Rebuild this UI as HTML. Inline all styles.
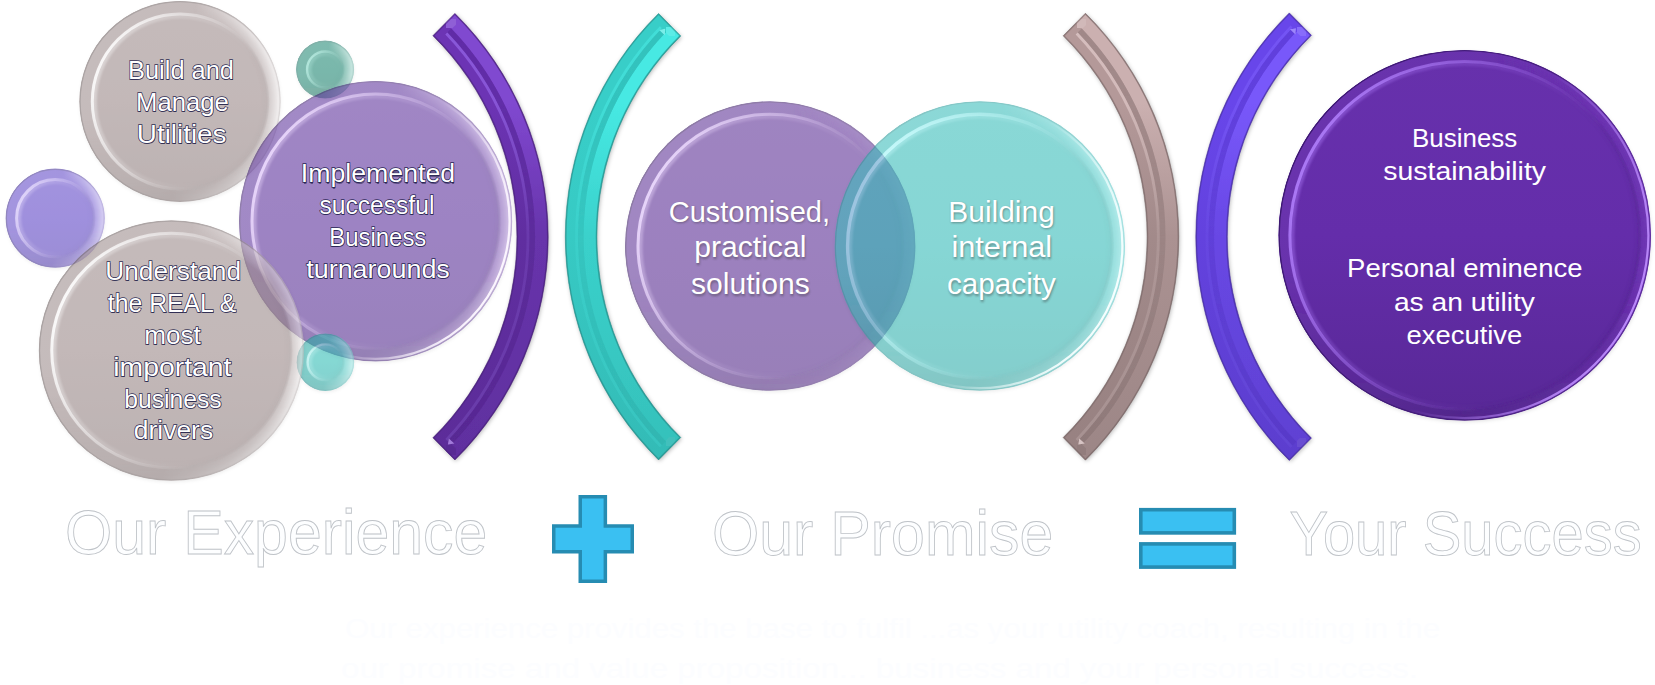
<!DOCTYPE html>
<html lang="en">
<head>
<meta charset="utf-8">
<title>Our Experience + Our Promise = Your Success</title>
<style>
html,body{margin:0;padding:0;background:#ffffff;}
body{width:1655px;height:685px;overflow:hidden;}
svg{display:block;}
text{font-family:"Liberation Sans",sans-serif;}
</style>
</head>
<body>
<svg width="1655" height="685" viewBox="0 0 1655 685">
<defs>
<filter id="sh" x="-20%" y="-20%" width="140%" height="140%"><feGaussianBlur stdDeviation="2.2"/></filter>
<filter id="b1" x="-20%" y="-20%" width="140%" height="140%"><feGaussianBlur stdDeviation="1.1"/></filter>
<filter id="b05" x="-20%" y="-20%" width="140%" height="140%"><feGaussianBlur stdDeviation="0.55"/></filter>
<filter id="b07" x="-20%" y="-20%" width="140%" height="140%"><feGaussianBlur stdDeviation="0.7"/></filter>
<linearGradient id="g1" x1="0" y1="0" x2="0" y2="1"><stop offset="0" stop-color="rgb(96,71,200)"/><stop offset="0.5" stop-color="rgb(91,65,198)"/><stop offset="1" stop-color="rgb(84,60,182)"/></linearGradient>
<clipPath id="g1c"><ellipse cx="55.20" cy="218.20" rx="49.60" ry="49.60" /></clipPath>
<linearGradient id="g1b" gradientUnits="userSpaceOnUse" x1="9.6" y1="198.4" x2="100.8" y2="238.0"><stop offset="0" stop-color="rgb(99,74,201)" stop-opacity="1"/><stop offset="0.45" stop-color="rgb(99,74,201)" stop-opacity="0.6"/><stop offset="0.7" stop-color="rgb(99,74,201)" stop-opacity="0"/></linearGradient>
<linearGradient id="g1q0" gradientUnits="userSpaceOnUse" x1="5.6" y1="212.2" x2="104.8" y2="224.2"><stop offset="0.52" stop-color="rgb(127,105,212)" stop-opacity="0"/><stop offset="0.78" stop-color="rgb(127,105,212)" stop-opacity="0.6"/><stop offset="0.95" stop-color="rgb(127,105,212)" stop-opacity="1"/></linearGradient>
<linearGradient id="g1q1" gradientUnits="userSpaceOnUse" x1="5.6" y1="212.2" x2="104.8" y2="224.2"><stop offset="0.52" stop-color="rgb(139,119,217)" stop-opacity="0"/><stop offset="0.78" stop-color="rgb(139,119,217)" stop-opacity="0.6"/><stop offset="0.95" stop-color="rgb(139,119,217)" stop-opacity="1"/></linearGradient>
<linearGradient id="g1q2" gradientUnits="userSpaceOnUse" x1="5.6" y1="212.2" x2="104.8" y2="224.2"><stop offset="0.52" stop-color="rgb(151,133,222)" stop-opacity="0"/><stop offset="0.78" stop-color="rgb(151,133,222)" stop-opacity="0.6"/><stop offset="0.95" stop-color="rgb(151,133,222)" stop-opacity="1"/></linearGradient>
<linearGradient id="g1q3" gradientUnits="userSpaceOnUse" x1="5.6" y1="212.2" x2="104.8" y2="224.2"><stop offset="0.52" stop-color="rgb(165,148,227)" stop-opacity="0"/><stop offset="0.78" stop-color="rgb(165,148,227)" stop-opacity="0.6"/><stop offset="0.95" stop-color="rgb(165,148,227)" stop-opacity="1"/></linearGradient>
<linearGradient id="g1q4" gradientUnits="userSpaceOnUse" x1="5.6" y1="212.2" x2="104.8" y2="224.2"><stop offset="0.52" stop-color="rgb(178,164,232)" stop-opacity="0"/><stop offset="0.78" stop-color="rgb(178,164,232)" stop-opacity="0.6"/><stop offset="0.95" stop-color="rgb(178,164,232)" stop-opacity="1"/></linearGradient>
<linearGradient id="g1q5" gradientUnits="userSpaceOnUse" x1="5.6" y1="212.2" x2="104.8" y2="224.2"><stop offset="0.52" stop-color="rgb(192,179,238)" stop-opacity="0"/><stop offset="0.78" stop-color="rgb(192,179,238)" stop-opacity="0.6"/><stop offset="0.95" stop-color="rgb(192,179,238)" stop-opacity="1"/></linearGradient>
<linearGradient id="g1v" gradientUnits="userSpaceOnUse" x1="0" y1="168.6" x2="0" y2="267.8"><stop offset="0.6" stop-color="rgb(68,49,148)" stop-opacity="0"/><stop offset="1" stop-color="rgb(68,49,148)" stop-opacity="0.5"/></linearGradient>
<linearGradient id="g1r" gradientUnits="userSpaceOnUse" x1="9.6" y1="198.4" x2="100.8" y2="238.0"><stop offset="0" stop-color="rgb(53,38,115)" stop-opacity="0.70"/><stop offset="0.5" stop-color="rgb(53,38,115)" stop-opacity="0.52"/><stop offset="0.85" stop-color="rgb(53,38,115)" stop-opacity="0.21"/></linearGradient>
<linearGradient id="g1h" gradientUnits="userSpaceOnUse" x1="9.6" y1="198.4" x2="100.8" y2="238.0"><stop offset="0" stop-color="rgb(221,203,255)" stop-opacity="0.95"/><stop offset="0.22" stop-color="rgb(221,203,255)" stop-opacity="0.59"/><stop offset="0.50" stop-color="rgb(221,203,255)" stop-opacity="0.21"/><stop offset="0.75" stop-color="rgb(71,51,154)" stop-opacity="0.16"/><stop offset="1" stop-color="rgb(71,51,154)" stop-opacity="0.25"/></linearGradient>
<linearGradient id="g2" x1="0" y1="0" x2="0" y2="1"><stop offset="0" stop-color="rgb(155,138,138)"/><stop offset="0.5" stop-color="rgb(152,134,134)"/><stop offset="1" stop-color="rgb(140,123,123)"/></linearGradient>
<clipPath id="g2c"><ellipse cx="180.00" cy="101.40" rx="100.70" ry="100.50" /></clipPath>
<linearGradient id="g2b" gradientUnits="userSpaceOnUse" x1="87.4" y1="61.2" x2="272.6" y2="141.6"><stop offset="0" stop-color="rgb(157,140,140)" stop-opacity="1"/><stop offset="0.45" stop-color="rgb(157,140,140)" stop-opacity="0.6"/><stop offset="0.7" stop-color="rgb(157,140,140)" stop-opacity="0"/></linearGradient>
<linearGradient id="g2q0" gradientUnits="userSpaceOnUse" x1="79.3" y1="89.3" x2="280.7" y2="113.5"><stop offset="0.52" stop-color="rgb(183,170,170)" stop-opacity="0"/><stop offset="0.78" stop-color="rgb(183,170,170)" stop-opacity="0.6"/><stop offset="0.95" stop-color="rgb(183,170,170)" stop-opacity="1"/></linearGradient>
<linearGradient id="g2q1" gradientUnits="userSpaceOnUse" x1="79.3" y1="89.3" x2="280.7" y2="113.5"><stop offset="0.52" stop-color="rgb(193,183,183)" stop-opacity="0"/><stop offset="0.78" stop-color="rgb(193,183,183)" stop-opacity="0.6"/><stop offset="0.95" stop-color="rgb(193,183,183)" stop-opacity="1"/></linearGradient>
<linearGradient id="g2q2" gradientUnits="userSpaceOnUse" x1="79.3" y1="89.3" x2="280.7" y2="113.5"><stop offset="0.52" stop-color="rgb(205,196,196)" stop-opacity="0"/><stop offset="0.78" stop-color="rgb(205,196,196)" stop-opacity="0.6"/><stop offset="0.95" stop-color="rgb(205,196,196)" stop-opacity="1"/></linearGradient>
<linearGradient id="g2q3" gradientUnits="userSpaceOnUse" x1="79.3" y1="89.3" x2="280.7" y2="113.5"><stop offset="0.52" stop-color="rgb(216,209,209)" stop-opacity="0"/><stop offset="0.78" stop-color="rgb(216,209,209)" stop-opacity="0.6"/><stop offset="0.95" stop-color="rgb(216,209,209)" stop-opacity="1"/></linearGradient>
<linearGradient id="g2q4" gradientUnits="userSpaceOnUse" x1="79.3" y1="89.3" x2="280.7" y2="113.5"><stop offset="0.52" stop-color="rgb(228,223,223)" stop-opacity="0"/><stop offset="0.78" stop-color="rgb(228,223,223)" stop-opacity="0.6"/><stop offset="0.95" stop-color="rgb(228,223,223)" stop-opacity="1"/></linearGradient>
<linearGradient id="g2q5" gradientUnits="userSpaceOnUse" x1="79.3" y1="89.3" x2="280.7" y2="113.5"><stop offset="0.52" stop-color="rgb(240,237,237)" stop-opacity="0"/><stop offset="0.78" stop-color="rgb(240,237,237)" stop-opacity="0.6"/><stop offset="0.95" stop-color="rgb(240,237,237)" stop-opacity="1"/></linearGradient>
<linearGradient id="g2v" gradientUnits="userSpaceOnUse" x1="0" y1="0.9" x2="0" y2="201.9"><stop offset="0.6" stop-color="rgb(114,100,100)" stop-opacity="0"/><stop offset="1" stop-color="rgb(114,100,100)" stop-opacity="0.5"/></linearGradient>
<linearGradient id="g2r" gradientUnits="userSpaceOnUse" x1="87.4" y1="61.2" x2="272.6" y2="141.6"><stop offset="0" stop-color="rgb(88,78,78)" stop-opacity="0.70"/><stop offset="0.5" stop-color="rgb(88,78,78)" stop-opacity="0.52"/><stop offset="0.85" stop-color="rgb(88,78,78)" stop-opacity="0.21"/></linearGradient>
<linearGradient id="g2h" gradientUnits="userSpaceOnUse" x1="87.4" y1="61.2" x2="272.6" y2="141.6"><stop offset="0" stop-color="rgb(255,255,255)" stop-opacity="0.95"/><stop offset="0.22" stop-color="rgb(255,255,255)" stop-opacity="0.59"/><stop offset="0.50" stop-color="rgb(255,255,255)" stop-opacity="0.21"/><stop offset="0.75" stop-color="rgb(119,105,105)" stop-opacity="0.16"/><stop offset="1" stop-color="rgb(119,105,105)" stop-opacity="0.25"/></linearGradient>
<linearGradient id="g3" x1="0" y1="0" x2="0" y2="1"><stop offset="0" stop-color="rgb(33,137,116)"/><stop offset="0.5" stop-color="rgb(26,133,112)"/><stop offset="1" stop-color="rgb(24,122,103)"/></linearGradient>
<clipPath id="g3c"><ellipse cx="325.10" cy="69.50" rx="29.00" ry="29.00" /></clipPath>
<linearGradient id="g3b" gradientUnits="userSpaceOnUse" x1="298.4" y1="57.9" x2="351.8" y2="81.1"><stop offset="0" stop-color="rgb(37,139,119)" stop-opacity="1"/><stop offset="0.45" stop-color="rgb(37,139,119)" stop-opacity="0.6"/><stop offset="0.7" stop-color="rgb(37,139,119)" stop-opacity="0"/></linearGradient>
<linearGradient id="g3q0" gradientUnits="userSpaceOnUse" x1="296.1" y1="66.0" x2="354.1" y2="73.0"><stop offset="0.52" stop-color="rgb(79,164,147)" stop-opacity="0"/><stop offset="0.78" stop-color="rgb(79,164,147)" stop-opacity="0.6"/><stop offset="0.95" stop-color="rgb(79,164,147)" stop-opacity="1"/></linearGradient>
<linearGradient id="g3q1" gradientUnits="userSpaceOnUse" x1="296.1" y1="66.0" x2="354.1" y2="73.0"><stop offset="0.52" stop-color="rgb(97,175,159)" stop-opacity="0"/><stop offset="0.78" stop-color="rgb(97,175,159)" stop-opacity="0.6"/><stop offset="0.95" stop-color="rgb(97,175,159)" stop-opacity="1"/></linearGradient>
<linearGradient id="g3q2" gradientUnits="userSpaceOnUse" x1="296.1" y1="66.0" x2="354.1" y2="73.0"><stop offset="0.52" stop-color="rgb(116,186,172)" stop-opacity="0"/><stop offset="0.78" stop-color="rgb(116,186,172)" stop-opacity="0.6"/><stop offset="0.95" stop-color="rgb(116,186,172)" stop-opacity="1"/></linearGradient>
<linearGradient id="g3q3" gradientUnits="userSpaceOnUse" x1="296.1" y1="66.0" x2="354.1" y2="73.0"><stop offset="0.52" stop-color="rgb(135,197,185)" stop-opacity="0"/><stop offset="0.78" stop-color="rgb(135,197,185)" stop-opacity="0.6"/><stop offset="0.95" stop-color="rgb(135,197,185)" stop-opacity="1"/></linearGradient>
<linearGradient id="g3q4" gradientUnits="userSpaceOnUse" x1="296.1" y1="66.0" x2="354.1" y2="73.0"><stop offset="0.52" stop-color="rgb(155,209,198)" stop-opacity="0"/><stop offset="0.78" stop-color="rgb(155,209,198)" stop-opacity="0.6"/><stop offset="0.95" stop-color="rgb(155,209,198)" stop-opacity="1"/></linearGradient>
<linearGradient id="g3q5" gradientUnits="userSpaceOnUse" x1="296.1" y1="66.0" x2="354.1" y2="73.0"><stop offset="0.52" stop-color="rgb(175,221,212)" stop-opacity="0"/><stop offset="0.78" stop-color="rgb(175,221,212)" stop-opacity="0.6"/><stop offset="0.95" stop-color="rgb(175,221,212)" stop-opacity="1"/></linearGradient>
<linearGradient id="g3v" gradientUnits="userSpaceOnUse" x1="0" y1="40.5" x2="0" y2="98.5"><stop offset="0.6" stop-color="rgb(20,100,84)" stop-opacity="0"/><stop offset="1" stop-color="rgb(20,100,84)" stop-opacity="0.5"/></linearGradient>
<linearGradient id="g3r" gradientUnits="userSpaceOnUse" x1="298.4" y1="57.9" x2="351.8" y2="81.1"><stop offset="0" stop-color="rgb(40,110,100)" stop-opacity="0.70"/><stop offset="0.5" stop-color="rgb(40,110,100)" stop-opacity="0.52"/><stop offset="0.85" stop-color="rgb(40,110,100)" stop-opacity="0.21"/></linearGradient>
<linearGradient id="g3h" gradientUnits="userSpaceOnUse" x1="298.4" y1="57.9" x2="351.8" y2="81.1"><stop offset="0" stop-color="rgb(160,243,226)" stop-opacity="0.95"/><stop offset="0.22" stop-color="rgb(160,243,226)" stop-opacity="0.59"/><stop offset="0.50" stop-color="rgb(160,243,226)" stop-opacity="0.21"/><stop offset="0.75" stop-color="rgb(20,104,87)" stop-opacity="0.16"/><stop offset="1" stop-color="rgb(20,104,87)" stop-opacity="0.25"/></linearGradient>
<linearGradient id="g4" x1="0" y1="0" x2="0" y2="1"><stop offset="0" stop-color="rgb(93,49,156)"/><stop offset="0.5" stop-color="rgb(88,43,153)"/><stop offset="1" stop-color="rgb(81,40,141)"/></linearGradient>
<clipPath id="g4c"><ellipse cx="375.60" cy="221.20" rx="136.60" ry="140.30" /></clipPath>
<linearGradient id="g4b" gradientUnits="userSpaceOnUse" x1="249.9" y1="165.1" x2="501.3" y2="277.3"><stop offset="0" stop-color="rgb(96,54,158)" stop-opacity="1"/><stop offset="0.45" stop-color="rgb(96,54,158)" stop-opacity="0.6"/><stop offset="0.7" stop-color="rgb(96,54,158)" stop-opacity="0"/></linearGradient>
<linearGradient id="g4q0" gradientUnits="userSpaceOnUse" x1="239.0" y1="204.4" x2="512.2" y2="238.0"><stop offset="0.52" stop-color="rgb(125,87,179)" stop-opacity="0"/><stop offset="0.78" stop-color="rgb(125,87,179)" stop-opacity="0.6"/><stop offset="0.95" stop-color="rgb(125,87,179)" stop-opacity="1"/></linearGradient>
<linearGradient id="g4q1" gradientUnits="userSpaceOnUse" x1="239.0" y1="204.4" x2="512.2" y2="238.0"><stop offset="0.52" stop-color="rgb(138,102,187)" stop-opacity="0"/><stop offset="0.78" stop-color="rgb(138,102,187)" stop-opacity="0.6"/><stop offset="0.95" stop-color="rgb(138,102,187)" stop-opacity="1"/></linearGradient>
<linearGradient id="g4q2" gradientUnits="userSpaceOnUse" x1="239.0" y1="204.4" x2="512.2" y2="238.0"><stop offset="0.52" stop-color="rgb(151,117,197)" stop-opacity="0"/><stop offset="0.78" stop-color="rgb(151,117,197)" stop-opacity="0.6"/><stop offset="0.95" stop-color="rgb(151,117,197)" stop-opacity="1"/></linearGradient>
<linearGradient id="g4q3" gradientUnits="userSpaceOnUse" x1="239.0" y1="204.4" x2="512.2" y2="238.0"><stop offset="0.52" stop-color="rgb(165,133,206)" stop-opacity="0"/><stop offset="0.78" stop-color="rgb(165,133,206)" stop-opacity="0.6"/><stop offset="0.95" stop-color="rgb(165,133,206)" stop-opacity="1"/></linearGradient>
<linearGradient id="g4q4" gradientUnits="userSpaceOnUse" x1="239.0" y1="204.4" x2="512.2" y2="238.0"><stop offset="0.52" stop-color="rgb(179,150,216)" stop-opacity="0"/><stop offset="0.78" stop-color="rgb(179,150,216)" stop-opacity="0.6"/><stop offset="0.95" stop-color="rgb(179,150,216)" stop-opacity="1"/></linearGradient>
<linearGradient id="g4q5" gradientUnits="userSpaceOnUse" x1="239.0" y1="204.4" x2="512.2" y2="238.0"><stop offset="0.52" stop-color="rgb(193,167,226)" stop-opacity="0"/><stop offset="0.78" stop-color="rgb(193,167,226)" stop-opacity="0.6"/><stop offset="0.95" stop-color="rgb(193,167,226)" stop-opacity="1"/></linearGradient>
<linearGradient id="g4v" gradientUnits="userSpaceOnUse" x1="0" y1="80.9" x2="0" y2="361.5"><stop offset="0.6" stop-color="rgb(66,32,115)" stop-opacity="0"/><stop offset="1" stop-color="rgb(66,32,115)" stop-opacity="0.5"/></linearGradient>
<linearGradient id="g4r" gradientUnits="userSpaceOnUse" x1="249.9" y1="165.1" x2="501.3" y2="277.3"><stop offset="0" stop-color="rgb(51,25,89)" stop-opacity="0.70"/><stop offset="0.5" stop-color="rgb(51,25,89)" stop-opacity="0.52"/><stop offset="0.85" stop-color="rgb(51,25,89)" stop-opacity="0.21"/></linearGradient>
<linearGradient id="g4h" gradientUnits="userSpaceOnUse" x1="249.9" y1="165.1" x2="501.3" y2="277.3"><stop offset="0" stop-color="rgb(226,195,255)" stop-opacity="0.95"/><stop offset="0.22" stop-color="rgb(226,195,255)" stop-opacity="0.59"/><stop offset="0.50" stop-color="rgb(226,195,255)" stop-opacity="0.21"/><stop offset="0.75" stop-color="rgb(69,34,119)" stop-opacity="0.16"/><stop offset="1" stop-color="rgb(69,34,119)" stop-opacity="0.25"/></linearGradient>
<linearGradient id="g4e" gradientUnits="userSpaceOnUse" x1="249.9" y1="165.1" x2="501.3" y2="277.3"><stop offset="0" stop-color="rgb(250,240,255)" stop-opacity="0"/><stop offset="0.55" stop-color="rgb(250,240,255)" stop-opacity="0"/><stop offset="0.9" stop-color="rgb(250,240,255)" stop-opacity="0.9"/><stop offset="1" stop-color="rgb(250,240,255)" stop-opacity="1"/></linearGradient>
<linearGradient id="g5" x1="0" y1="0" x2="0" y2="1"><stop offset="0" stop-color="rgb(52,190,183)"/><stop offset="0.5" stop-color="rgb(46,188,181)"/><stop offset="1" stop-color="rgb(42,173,167)"/></linearGradient>
<clipPath id="g5c"><ellipse cx="325.40" cy="362.20" rx="28.80" ry="28.80" /></clipPath>
<linearGradient id="g5b" gradientUnits="userSpaceOnUse" x1="298.9" y1="350.7" x2="351.9" y2="373.7"><stop offset="0" stop-color="rgb(41,169,163)" stop-opacity="1"/><stop offset="0.45" stop-color="rgb(41,169,163)" stop-opacity="0.6"/><stop offset="0.7" stop-color="rgb(41,169,163)" stop-opacity="0"/></linearGradient>
<linearGradient id="g5q0" gradientUnits="userSpaceOnUse" x1="296.6" y1="358.7" x2="354.2" y2="365.7"><stop offset="0.52" stop-color="rgb(90,204,199)" stop-opacity="0"/><stop offset="0.78" stop-color="rgb(90,204,199)" stop-opacity="0.6"/><stop offset="0.95" stop-color="rgb(90,204,199)" stop-opacity="1"/></linearGradient>
<linearGradient id="g5q1" gradientUnits="userSpaceOnUse" x1="296.6" y1="358.7" x2="354.2" y2="365.7"><stop offset="0.52" stop-color="rgb(105,209,205)" stop-opacity="0"/><stop offset="0.78" stop-color="rgb(105,209,205)" stop-opacity="0.6"/><stop offset="0.95" stop-color="rgb(105,209,205)" stop-opacity="1"/></linearGradient>
<linearGradient id="g5q2" gradientUnits="userSpaceOnUse" x1="296.6" y1="358.7" x2="354.2" y2="365.7"><stop offset="0.52" stop-color="rgb(121,215,211)" stop-opacity="0"/><stop offset="0.78" stop-color="rgb(121,215,211)" stop-opacity="0.6"/><stop offset="0.95" stop-color="rgb(121,215,211)" stop-opacity="1"/></linearGradient>
<linearGradient id="g5q3" gradientUnits="userSpaceOnUse" x1="296.6" y1="358.7" x2="354.2" y2="365.7"><stop offset="0.52" stop-color="rgb(137,221,217)" stop-opacity="0"/><stop offset="0.78" stop-color="rgb(137,221,217)" stop-opacity="0.6"/><stop offset="0.95" stop-color="rgb(137,221,217)" stop-opacity="1"/></linearGradient>
<linearGradient id="g5q4" gradientUnits="userSpaceOnUse" x1="296.6" y1="358.7" x2="354.2" y2="365.7"><stop offset="0.52" stop-color="rgb(154,227,224)" stop-opacity="0"/><stop offset="0.78" stop-color="rgb(154,227,224)" stop-opacity="0.6"/><stop offset="0.95" stop-color="rgb(154,227,224)" stop-opacity="1"/></linearGradient>
<linearGradient id="g5q5" gradientUnits="userSpaceOnUse" x1="296.6" y1="358.7" x2="354.2" y2="365.7"><stop offset="0.52" stop-color="rgb(171,233,231)" stop-opacity="0"/><stop offset="0.78" stop-color="rgb(171,233,231)" stop-opacity="0.6"/><stop offset="0.95" stop-color="rgb(171,233,231)" stop-opacity="1"/></linearGradient>
<linearGradient id="g5v" gradientUnits="userSpaceOnUse" x1="0" y1="333.4" x2="0" y2="391.0"><stop offset="0.6" stop-color="rgb(34,141,136)" stop-opacity="0"/><stop offset="1" stop-color="rgb(34,141,136)" stop-opacity="0.5"/></linearGradient>
<linearGradient id="g5r" gradientUnits="userSpaceOnUse" x1="298.9" y1="350.7" x2="351.9" y2="373.7"><stop offset="0" stop-color="rgb(40,130,135)" stop-opacity="0.70"/><stop offset="0.5" stop-color="rgb(40,130,135)" stop-opacity="0.52"/><stop offset="0.85" stop-color="rgb(40,130,135)" stop-opacity="0.21"/></linearGradient>
<linearGradient id="g5h" gradientUnits="userSpaceOnUse" x1="298.9" y1="350.7" x2="351.9" y2="373.7"><stop offset="0" stop-color="rgb(203,253,252)" stop-opacity="0.95"/><stop offset="0.22" stop-color="rgb(203,253,252)" stop-opacity="0.59"/><stop offset="0.50" stop-color="rgb(203,253,252)" stop-opacity="0.21"/><stop offset="0.75" stop-color="rgb(36,147,141)" stop-opacity="0.16"/><stop offset="1" stop-color="rgb(36,147,141)" stop-opacity="0.25"/></linearGradient>
<linearGradient id="g6" x1="0" y1="0" x2="0" y2="1"><stop offset="0" stop-color="rgb(155,138,138)"/><stop offset="0.5" stop-color="rgb(152,134,134)"/><stop offset="1" stop-color="rgb(140,123,123)"/></linearGradient>
<clipPath id="g6c"><ellipse cx="171.35" cy="350.55" rx="132.60" ry="130.25" /></clipPath>
<linearGradient id="g6b" gradientUnits="userSpaceOnUse" x1="49.4" y1="298.4" x2="293.3" y2="402.7"><stop offset="0" stop-color="rgb(157,140,140)" stop-opacity="1"/><stop offset="0.45" stop-color="rgb(157,140,140)" stop-opacity="0.6"/><stop offset="0.7" stop-color="rgb(157,140,140)" stop-opacity="0"/></linearGradient>
<linearGradient id="g6q0" gradientUnits="userSpaceOnUse" x1="38.8" y1="334.9" x2="303.9" y2="366.2"><stop offset="0.52" stop-color="rgb(183,170,170)" stop-opacity="0"/><stop offset="0.78" stop-color="rgb(183,170,170)" stop-opacity="0.6"/><stop offset="0.95" stop-color="rgb(183,170,170)" stop-opacity="1"/></linearGradient>
<linearGradient id="g6q1" gradientUnits="userSpaceOnUse" x1="38.8" y1="334.9" x2="303.9" y2="366.2"><stop offset="0.52" stop-color="rgb(193,183,183)" stop-opacity="0"/><stop offset="0.78" stop-color="rgb(193,183,183)" stop-opacity="0.6"/><stop offset="0.95" stop-color="rgb(193,183,183)" stop-opacity="1"/></linearGradient>
<linearGradient id="g6q2" gradientUnits="userSpaceOnUse" x1="38.8" y1="334.9" x2="303.9" y2="366.2"><stop offset="0.52" stop-color="rgb(205,196,196)" stop-opacity="0"/><stop offset="0.78" stop-color="rgb(205,196,196)" stop-opacity="0.6"/><stop offset="0.95" stop-color="rgb(205,196,196)" stop-opacity="1"/></linearGradient>
<linearGradient id="g6q3" gradientUnits="userSpaceOnUse" x1="38.8" y1="334.9" x2="303.9" y2="366.2"><stop offset="0.52" stop-color="rgb(216,209,209)" stop-opacity="0"/><stop offset="0.78" stop-color="rgb(216,209,209)" stop-opacity="0.6"/><stop offset="0.95" stop-color="rgb(216,209,209)" stop-opacity="1"/></linearGradient>
<linearGradient id="g6q4" gradientUnits="userSpaceOnUse" x1="38.8" y1="334.9" x2="303.9" y2="366.2"><stop offset="0.52" stop-color="rgb(228,223,223)" stop-opacity="0"/><stop offset="0.78" stop-color="rgb(228,223,223)" stop-opacity="0.6"/><stop offset="0.95" stop-color="rgb(228,223,223)" stop-opacity="1"/></linearGradient>
<linearGradient id="g6q5" gradientUnits="userSpaceOnUse" x1="38.8" y1="334.9" x2="303.9" y2="366.2"><stop offset="0.52" stop-color="rgb(240,237,237)" stop-opacity="0"/><stop offset="0.78" stop-color="rgb(240,237,237)" stop-opacity="0.6"/><stop offset="0.95" stop-color="rgb(240,237,237)" stop-opacity="1"/></linearGradient>
<linearGradient id="g6v" gradientUnits="userSpaceOnUse" x1="0" y1="220.3" x2="0" y2="480.8"><stop offset="0.6" stop-color="rgb(114,100,100)" stop-opacity="0"/><stop offset="1" stop-color="rgb(114,100,100)" stop-opacity="0.5"/></linearGradient>
<linearGradient id="g6r" gradientUnits="userSpaceOnUse" x1="49.4" y1="298.4" x2="293.3" y2="402.7"><stop offset="0" stop-color="rgb(88,78,78)" stop-opacity="0.70"/><stop offset="0.5" stop-color="rgb(88,78,78)" stop-opacity="0.52"/><stop offset="0.85" stop-color="rgb(88,78,78)" stop-opacity="0.21"/></linearGradient>
<linearGradient id="g6h" gradientUnits="userSpaceOnUse" x1="49.4" y1="298.4" x2="293.3" y2="402.7"><stop offset="0" stop-color="rgb(255,255,255)" stop-opacity="0.95"/><stop offset="0.22" stop-color="rgb(255,255,255)" stop-opacity="0.59"/><stop offset="0.50" stop-color="rgb(255,255,255)" stop-opacity="0.21"/><stop offset="0.75" stop-color="rgb(119,105,105)" stop-opacity="0.16"/><stop offset="1" stop-color="rgb(119,105,105)" stop-opacity="0.25"/></linearGradient>
<clipPath id="c7"><path d="M454.90 460.01 A313.90 313.90 0 0 0 454.90 13.39 L432.90 35.65 A282.60 282.60 0 0 1 432.90 437.75 Z"/></clipPath>
<linearGradient id="c7f" gradientUnits="userSpaceOnUse" x1="0" y1="13.4" x2="0" y2="460.0"><stop offset="0" stop-color="rgb(108,52,180)"/><stop offset="0.2" stop-color="rgb(108,52,180)"/><stop offset="0.5" stop-color="rgb(96,46,160)"/><stop offset="1" stop-color="rgb(92,44,153)"/></linearGradient>
<linearGradient id="c7l" gradientUnits="userSpaceOnUse" x1="0" y1="13.4" x2="0" y2="460.0"><stop offset="0" stop-color="rgb(128,72,208)"/><stop offset="0.2" stop-color="rgb(128,72,208)"/><stop offset="0.5" stop-color="rgb(103,52,171)"/><stop offset="1" stop-color="rgb(96,47,159)"/></linearGradient>
<linearGradient id="c7g" gradientUnits="userSpaceOnUse" x1="0" y1="13.4" x2="0" y2="460.0"><stop offset="0" stop-color="rgb(96,44,166)" stop-opacity="1"/><stop offset="0.2" stop-color="rgb(96,44,166)" stop-opacity="0.9"/><stop offset="0.5" stop-color="rgb(85,39,148)" stop-opacity="0.35"/><stop offset="1" stop-color="rgb(82,37,141)" stop-opacity="0.55"/></linearGradient>
<linearGradient id="c7s" gradientUnits="userSpaceOnUse" x1="0" y1="13.4" x2="0" y2="460.0"><stop offset="0" stop-color="rgb(138,88,218)" stop-opacity="1"/><stop offset="0.2" stop-color="rgb(138,88,218)" stop-opacity="0.9"/><stop offset="0.5" stop-color="rgb(123,78,194)" stop-opacity="0.35"/><stop offset="1" stop-color="rgb(117,75,185)" stop-opacity="0.55"/></linearGradient>
<clipPath id="c8"><path d="M658.57 13.46 A313.80 313.80 0 0 0 658.57 459.94 L680.78 437.46 A282.20 282.20 0 0 1 680.78 35.94 Z"/></clipPath>
<linearGradient id="c8f" gradientUnits="userSpaceOnUse" x1="0" y1="13.5" x2="0" y2="459.9"><stop offset="0" stop-color="rgb(56,206,200)"/><stop offset="0.2" stop-color="rgb(56,206,200)"/><stop offset="0.5" stop-color="rgb(55,202,196)"/><stop offset="1" stop-color="rgb(51,187,182)"/></linearGradient>
<linearGradient id="c8l" gradientUnits="userSpaceOnUse" x1="0" y1="13.5" x2="0" y2="459.9"><stop offset="0" stop-color="rgb(70,233,227)"/><stop offset="0.2" stop-color="rgb(70,233,227)"/><stop offset="0.5" stop-color="rgb(58,209,203)"/><stop offset="1" stop-color="rgb(53,192,186)"/></linearGradient>
<linearGradient id="c8g" gradientUnits="userSpaceOnUse" x1="0" y1="13.5" x2="0" y2="459.9"><stop offset="0" stop-color="rgb(50,194,189)" stop-opacity="1"/><stop offset="0.2" stop-color="rgb(50,194,189)" stop-opacity="0.9"/><stop offset="0.5" stop-color="rgb(49,190,185)" stop-opacity="0.35"/><stop offset="1" stop-color="rgb(46,177,172)" stop-opacity="0.55"/></linearGradient>
<linearGradient id="c8s" gradientUnits="userSpaceOnUse" x1="0" y1="13.5" x2="0" y2="459.9"><stop offset="0" stop-color="rgb(66,222,216)" stop-opacity="1"/><stop offset="0.2" stop-color="rgb(66,222,216)" stop-opacity="0.9"/><stop offset="0.5" stop-color="rgb(65,218,212)" stop-opacity="0.35"/><stop offset="1" stop-color="rgb(60,202,197)" stop-opacity="0.55"/></linearGradient>
<clipPath id="c9"><path d="M1085.44 460.15 A314.10 314.10 0 0 0 1085.44 13.25 L1063.16 35.80 A282.40 282.40 0 0 1 1063.16 437.60 Z"/></clipPath>
<linearGradient id="c9f" gradientUnits="userSpaceOnUse" x1="0" y1="13.2" x2="0" y2="460.2"><stop offset="0" stop-color="rgb(180,153,153)"/><stop offset="0.2" stop-color="rgb(180,153,153)"/><stop offset="0.5" stop-color="rgb(162,138,138)"/><stop offset="1" stop-color="rgb(151,129,129)"/></linearGradient>
<linearGradient id="c9l" gradientUnits="userSpaceOnUse" x1="0" y1="13.2" x2="0" y2="460.2"><stop offset="0" stop-color="rgb(203,176,176)"/><stop offset="0.2" stop-color="rgb(203,176,176)"/><stop offset="0.5" stop-color="rgb(171,146,146)"/><stop offset="1" stop-color="rgb(156,134,134)"/></linearGradient>
<linearGradient id="c9g" gradientUnits="userSpaceOnUse" x1="0" y1="13.2" x2="0" y2="460.2"><stop offset="0" stop-color="rgb(160,136,136)" stop-opacity="1"/><stop offset="0.2" stop-color="rgb(160,136,136)" stop-opacity="0.9"/><stop offset="0.5" stop-color="rgb(144,122,122)" stop-opacity="0.35"/><stop offset="1" stop-color="rgb(134,114,114)" stop-opacity="0.55"/></linearGradient>
<linearGradient id="c9s" gradientUnits="userSpaceOnUse" x1="0" y1="13.2" x2="0" y2="460.2"><stop offset="0" stop-color="rgb(214,190,190)" stop-opacity="1"/><stop offset="0.2" stop-color="rgb(214,190,190)" stop-opacity="0.9"/><stop offset="0.5" stop-color="rgb(193,171,171)" stop-opacity="0.35"/><stop offset="1" stop-color="rgb(180,160,160)" stop-opacity="0.55"/></linearGradient>
<clipPath id="c10"><path d="M1289.31 12.89 A314.60 314.60 0 0 0 1289.31 460.51 L1311.44 438.10 A283.10 283.10 0 0 1 1311.44 35.30 Z"/></clipPath>
<linearGradient id="c10f" gradientUnits="userSpaceOnUse" x1="0" y1="12.9" x2="0" y2="460.5"><stop offset="0" stop-color="rgb(104,70,234)"/><stop offset="0.2" stop-color="rgb(104,70,234)"/><stop offset="0.5" stop-color="rgb(99,66,222)"/><stop offset="1" stop-color="rgb(92,62,206)"/></linearGradient>
<linearGradient id="c10l" gradientUnits="userSpaceOnUse" x1="0" y1="12.9" x2="0" y2="460.5"><stop offset="0" stop-color="rgb(120,88,250)"/><stop offset="0.2" stop-color="rgb(120,88,250)"/><stop offset="0.5" stop-color="rgb(104,71,228)"/><stop offset="1" stop-color="rgb(95,65,210)"/></linearGradient>
<linearGradient id="c10g" gradientUnits="userSpaceOnUse" x1="0" y1="12.9" x2="0" y2="460.5"><stop offset="0" stop-color="rgb(96,63,220)" stop-opacity="1"/><stop offset="0.2" stop-color="rgb(96,63,220)" stop-opacity="0.9"/><stop offset="0.5" stop-color="rgb(91,60,209)" stop-opacity="0.35"/><stop offset="1" stop-color="rgb(84,55,194)" stop-opacity="0.55"/></linearGradient>
<linearGradient id="c10s" gradientUnits="userSpaceOnUse" x1="0" y1="12.9" x2="0" y2="460.5"><stop offset="0" stop-color="rgb(116,84,244)" stop-opacity="1"/><stop offset="0.2" stop-color="rgb(116,84,244)" stop-opacity="0.9"/><stop offset="0.5" stop-color="rgb(110,80,232)" stop-opacity="0.35"/><stop offset="1" stop-color="rgb(102,74,215)" stop-opacity="0.55"/></linearGradient>
<linearGradient id="g11" x1="0" y1="0" x2="0" y2="1"><stop offset="0" stop-color="rgb(91,45,149)"/><stop offset="0.5" stop-color="rgb(86,39,146)"/><stop offset="1" stop-color="rgb(79,36,134)"/></linearGradient>
<clipPath id="g11c"><ellipse cx="770.20" cy="246.00" rx="145.20" ry="144.80" /></clipPath>
<linearGradient id="g11b" gradientUnits="userSpaceOnUse" x1="636.6" y1="188.1" x2="903.8" y2="303.9"><stop offset="0" stop-color="rgb(94,50,151)" stop-opacity="1"/><stop offset="0.45" stop-color="rgb(94,50,151)" stop-opacity="0.6"/><stop offset="0.7" stop-color="rgb(94,50,151)" stop-opacity="0"/></linearGradient>
<linearGradient id="g11q0" gradientUnits="userSpaceOnUse" x1="625.0" y1="228.6" x2="915.4" y2="263.4"><stop offset="0.52" stop-color="rgb(94,49,152)" stop-opacity="0"/><stop offset="0.78" stop-color="rgb(94,49,152)" stop-opacity="0.6"/><stop offset="0.95" stop-color="rgb(94,49,152)" stop-opacity="1"/></linearGradient>
<linearGradient id="g11q1" gradientUnits="userSpaceOnUse" x1="625.0" y1="228.6" x2="915.4" y2="263.4"><stop offset="0.52" stop-color="rgb(97,52,154)" stop-opacity="0"/><stop offset="0.78" stop-color="rgb(97,52,154)" stop-opacity="0.6"/><stop offset="0.95" stop-color="rgb(97,52,154)" stop-opacity="1"/></linearGradient>
<linearGradient id="g11q2" gradientUnits="userSpaceOnUse" x1="625.0" y1="228.6" x2="915.4" y2="263.4"><stop offset="0.52" stop-color="rgb(100,56,156)" stop-opacity="0"/><stop offset="0.78" stop-color="rgb(100,56,156)" stop-opacity="0.6"/><stop offset="0.95" stop-color="rgb(100,56,156)" stop-opacity="1"/></linearGradient>
<linearGradient id="g11q3" gradientUnits="userSpaceOnUse" x1="625.0" y1="228.6" x2="915.4" y2="263.4"><stop offset="0.52" stop-color="rgb(103,59,158)" stop-opacity="0"/><stop offset="0.78" stop-color="rgb(103,59,158)" stop-opacity="0.6"/><stop offset="0.95" stop-color="rgb(103,59,158)" stop-opacity="1"/></linearGradient>
<linearGradient id="g11q4" gradientUnits="userSpaceOnUse" x1="625.0" y1="228.6" x2="915.4" y2="263.4"><stop offset="0.52" stop-color="rgb(106,63,160)" stop-opacity="0"/><stop offset="0.78" stop-color="rgb(106,63,160)" stop-opacity="0.6"/><stop offset="0.95" stop-color="rgb(106,63,160)" stop-opacity="1"/></linearGradient>
<linearGradient id="g11q5" gradientUnits="userSpaceOnUse" x1="625.0" y1="228.6" x2="915.4" y2="263.4"><stop offset="0.52" stop-color="rgb(109,67,162)" stop-opacity="0"/><stop offset="0.78" stop-color="rgb(109,67,162)" stop-opacity="0.6"/><stop offset="0.95" stop-color="rgb(109,67,162)" stop-opacity="1"/></linearGradient>
<linearGradient id="g11v" gradientUnits="userSpaceOnUse" x1="0" y1="101.2" x2="0" y2="390.8"><stop offset="0.6" stop-color="rgb(64,29,110)" stop-opacity="0"/><stop offset="1" stop-color="rgb(64,29,110)" stop-opacity="0.5"/></linearGradient>
<linearGradient id="g11r" gradientUnits="userSpaceOnUse" x1="636.6" y1="188.1" x2="903.8" y2="303.9"><stop offset="0" stop-color="rgb(50,23,85)" stop-opacity="0.80"/><stop offset="0.5" stop-color="rgb(50,23,85)" stop-opacity="0.60"/><stop offset="0.85" stop-color="rgb(50,23,85)" stop-opacity="0.24"/></linearGradient>
<linearGradient id="g11h" gradientUnits="userSpaceOnUse" x1="636.6" y1="188.1" x2="903.8" y2="303.9"><stop offset="0" stop-color="rgb(226,195,255)" stop-opacity="0.95"/><stop offset="0.22" stop-color="rgb(226,195,255)" stop-opacity="0.59"/><stop offset="0.50" stop-color="rgb(226,195,255)" stop-opacity="0.21"/><stop offset="0.75" stop-color="rgb(67,30,114)" stop-opacity="0.16"/><stop offset="1" stop-color="rgb(67,30,114)" stop-opacity="0.25"/></linearGradient>
<linearGradient id="g12" x1="0" y1="0" x2="0" y2="1"><stop offset="0" stop-color="rgb(54,188,185)"/><stop offset="0.5" stop-color="rgb(48,186,183)"/><stop offset="1" stop-color="rgb(44,171,168)"/></linearGradient>
<clipPath id="g12c"><ellipse cx="979.80" cy="246.00" rx="145.20" ry="144.80" /></clipPath>
<linearGradient id="g12b" gradientUnits="userSpaceOnUse" x1="846.2" y1="188.1" x2="1113.4" y2="303.9"><stop offset="0" stop-color="rgb(58,189,187)" stop-opacity="1"/><stop offset="0.45" stop-color="rgb(58,189,187)" stop-opacity="0.6"/><stop offset="0.7" stop-color="rgb(58,189,187)" stop-opacity="0"/></linearGradient>
<linearGradient id="g12q0" gradientUnits="userSpaceOnUse" x1="834.6" y1="228.6" x2="1125.0" y2="263.4"><stop offset="0.52" stop-color="rgb(78,200,198)" stop-opacity="0"/><stop offset="0.78" stop-color="rgb(78,200,198)" stop-opacity="0.6"/><stop offset="0.95" stop-color="rgb(78,200,198)" stop-opacity="1"/></linearGradient>
<linearGradient id="g12q1" gradientUnits="userSpaceOnUse" x1="834.6" y1="228.6" x2="1125.0" y2="263.4"><stop offset="0.52" stop-color="rgb(88,205,203)" stop-opacity="0"/><stop offset="0.78" stop-color="rgb(88,205,203)" stop-opacity="0.6"/><stop offset="0.95" stop-color="rgb(88,205,203)" stop-opacity="1"/></linearGradient>
<linearGradient id="g12q2" gradientUnits="userSpaceOnUse" x1="834.6" y1="228.6" x2="1125.0" y2="263.4"><stop offset="0.52" stop-color="rgb(98,210,209)" stop-opacity="0"/><stop offset="0.78" stop-color="rgb(98,210,209)" stop-opacity="0.6"/><stop offset="0.95" stop-color="rgb(98,210,209)" stop-opacity="1"/></linearGradient>
<linearGradient id="g12q3" gradientUnits="userSpaceOnUse" x1="834.6" y1="228.6" x2="1125.0" y2="263.4"><stop offset="0.52" stop-color="rgb(109,216,214)" stop-opacity="0"/><stop offset="0.78" stop-color="rgb(109,216,214)" stop-opacity="0.6"/><stop offset="0.95" stop-color="rgb(109,216,214)" stop-opacity="1"/></linearGradient>
<linearGradient id="g12q4" gradientUnits="userSpaceOnUse" x1="834.6" y1="228.6" x2="1125.0" y2="263.4"><stop offset="0.52" stop-color="rgb(121,221,220)" stop-opacity="0"/><stop offset="0.78" stop-color="rgb(121,221,220)" stop-opacity="0.6"/><stop offset="0.95" stop-color="rgb(121,221,220)" stop-opacity="1"/></linearGradient>
<linearGradient id="g12q5" gradientUnits="userSpaceOnUse" x1="834.6" y1="228.6" x2="1125.0" y2="263.4"><stop offset="0.52" stop-color="rgb(132,226,226)" stop-opacity="0"/><stop offset="0.78" stop-color="rgb(132,226,226)" stop-opacity="0.6"/><stop offset="0.95" stop-color="rgb(132,226,226)" stop-opacity="1"/></linearGradient>
<linearGradient id="g12v" gradientUnits="userSpaceOnUse" x1="0" y1="101.2" x2="0" y2="390.8"><stop offset="0.6" stop-color="rgb(36,140,137)" stop-opacity="0"/><stop offset="1" stop-color="rgb(36,140,137)" stop-opacity="0.5"/></linearGradient>
<linearGradient id="g12r" gradientUnits="userSpaceOnUse" x1="846.2" y1="188.1" x2="1113.4" y2="303.9"><stop offset="0" stop-color="rgb(40,140,140)" stop-opacity="0.70"/><stop offset="0.5" stop-color="rgb(40,140,140)" stop-opacity="0.52"/><stop offset="0.85" stop-color="rgb(40,140,140)" stop-opacity="0.21"/></linearGradient>
<linearGradient id="g12h" gradientUnits="userSpaceOnUse" x1="846.2" y1="188.1" x2="1113.4" y2="303.9"><stop offset="0" stop-color="rgb(169,252,255)" stop-opacity="0.95"/><stop offset="0.22" stop-color="rgb(169,252,255)" stop-opacity="0.59"/><stop offset="0.50" stop-color="rgb(169,252,255)" stop-opacity="0.21"/><stop offset="0.75" stop-color="rgb(37,145,143)" stop-opacity="0.16"/><stop offset="1" stop-color="rgb(37,145,143)" stop-opacity="0.25"/></linearGradient>
<linearGradient id="g12e" gradientUnits="userSpaceOnUse" x1="846.2" y1="188.1" x2="1113.4" y2="303.9"><stop offset="0" stop-color="rgb(240,255,255)" stop-opacity="0"/><stop offset="0.55" stop-color="rgb(240,255,255)" stop-opacity="0"/><stop offset="0.9" stop-color="rgb(240,255,255)" stop-opacity="0.9"/><stop offset="1" stop-color="rgb(240,255,255)" stop-opacity="1"/></linearGradient>
<linearGradient id="g13" x1="0" y1="0" x2="0" y2="1"><stop offset="0" stop-color="rgb(103,49,172)"/><stop offset="0.5" stop-color="rgb(100,45,170)"/><stop offset="1" stop-color="rgb(88,40,150)"/></linearGradient>
<clipPath id="g13c"><ellipse cx="1464.70" cy="235.35" rx="186.30" ry="185.40" /></clipPath>
<linearGradient id="g13b" gradientUnits="userSpaceOnUse" x1="1293.3" y1="161.2" x2="1636.1" y2="309.5"><stop offset="0" stop-color="rgb(105,51,173)" stop-opacity="1"/><stop offset="0.45" stop-color="rgb(105,51,173)" stop-opacity="0.6"/><stop offset="0.7" stop-color="rgb(105,51,173)" stop-opacity="0"/></linearGradient>
<linearGradient id="g13q0" gradientUnits="userSpaceOnUse" x1="1278.4" y1="213.1" x2="1651.0" y2="257.6"><stop offset="0.52" stop-color="rgb(105,50,175)" stop-opacity="0"/><stop offset="0.78" stop-color="rgb(105,50,175)" stop-opacity="0.6"/><stop offset="0.95" stop-color="rgb(105,50,175)" stop-opacity="1"/></linearGradient>
<linearGradient id="g13q1" gradientUnits="userSpaceOnUse" x1="1278.4" y1="213.1" x2="1651.0" y2="257.6"><stop offset="0.52" stop-color="rgb(107,52,176)" stop-opacity="0"/><stop offset="0.78" stop-color="rgb(107,52,176)" stop-opacity="0.6"/><stop offset="0.95" stop-color="rgb(107,52,176)" stop-opacity="1"/></linearGradient>
<linearGradient id="g13q2" gradientUnits="userSpaceOnUse" x1="1278.4" y1="213.1" x2="1651.0" y2="257.6"><stop offset="0.52" stop-color="rgb(109,54,178)" stop-opacity="0"/><stop offset="0.78" stop-color="rgb(109,54,178)" stop-opacity="0.6"/><stop offset="0.95" stop-color="rgb(109,54,178)" stop-opacity="1"/></linearGradient>
<linearGradient id="g13q3" gradientUnits="userSpaceOnUse" x1="1278.4" y1="213.1" x2="1651.0" y2="257.6"><stop offset="0.52" stop-color="rgb(111,56,180)" stop-opacity="0"/><stop offset="0.78" stop-color="rgb(111,56,180)" stop-opacity="0.6"/><stop offset="0.95" stop-color="rgb(111,56,180)" stop-opacity="1"/></linearGradient>
<linearGradient id="g13q4" gradientUnits="userSpaceOnUse" x1="1278.4" y1="213.1" x2="1651.0" y2="257.6"><stop offset="0.52" stop-color="rgb(112,58,182)" stop-opacity="0"/><stop offset="0.78" stop-color="rgb(112,58,182)" stop-opacity="0.6"/><stop offset="0.95" stop-color="rgb(112,58,182)" stop-opacity="1"/></linearGradient>
<linearGradient id="g13q5" gradientUnits="userSpaceOnUse" x1="1278.4" y1="213.1" x2="1651.0" y2="257.6"><stop offset="0.52" stop-color="rgb(114,60,184)" stop-opacity="0"/><stop offset="0.78" stop-color="rgb(114,60,184)" stop-opacity="0.6"/><stop offset="0.95" stop-color="rgb(114,60,184)" stop-opacity="1"/></linearGradient>
<linearGradient id="g13v" gradientUnits="userSpaceOnUse" x1="0" y1="49.9" x2="0" y2="420.8"><stop offset="0.6" stop-color="rgb(75,34,128)" stop-opacity="0"/><stop offset="1" stop-color="rgb(75,34,128)" stop-opacity="0.5"/></linearGradient>
<linearGradient id="g13r" gradientUnits="userSpaceOnUse" x1="1293.3" y1="161.2" x2="1636.1" y2="309.5"><stop offset="0" stop-color="rgb(55,22,105)" stop-opacity="0.90"/><stop offset="0.5" stop-color="rgb(55,22,105)" stop-opacity="0.68"/><stop offset="0.85" stop-color="rgb(55,22,105)" stop-opacity="0.27"/></linearGradient>
<linearGradient id="g13h" gradientUnits="userSpaceOnUse" x1="1293.3" y1="161.2" x2="1636.1" y2="309.5"><stop offset="0" stop-color="rgb(175,125,250)" stop-opacity="0.95"/><stop offset="0.22" stop-color="rgb(175,125,250)" stop-opacity="0.59"/><stop offset="0.50" stop-color="rgb(175,125,250)" stop-opacity="0.21"/><stop offset="0.75" stop-color="rgb(78,35,133)" stop-opacity="0.16"/><stop offset="1" stop-color="rgb(78,35,133)" stop-opacity="0.25"/></linearGradient>
<linearGradient id="g13e" gradientUnits="userSpaceOnUse" x1="1293.3" y1="161.2" x2="1636.1" y2="309.5"><stop offset="0" stop-color="rgb(185,135,250)" stop-opacity="0"/><stop offset="0.55" stop-color="rgb(185,135,250)" stop-opacity="0"/><stop offset="0.9" stop-color="rgb(185,135,250)" stop-opacity="0.9"/><stop offset="1" stop-color="rgb(185,135,250)" stop-opacity="1"/></linearGradient>
</defs>
<g opacity="0.580"><ellipse cx="55.20" cy="218.20" rx="48.60" ry="48.60" fill="rgba(0,0,0,0.16)" filter="url(#sh)" transform="translate(0.3,1.6)"/><g clip-path="url(#g1c)"><ellipse cx="55.20" cy="218.20" rx="49.60" ry="49.60" fill="url(#g1)"/><ellipse cx="55.20" cy="218.20" rx="44.35" ry="44.35" fill="none" stroke="url(#g1b)" stroke-width="10.5"/><ellipse cx="55.20" cy="218.20" rx="39.98" ry="39.98" fill="none" stroke="url(#g1q0)" stroke-width="2.75" filter="url(#b1)"/><ellipse cx="55.20" cy="218.20" rx="41.73" ry="41.73" fill="none" stroke="url(#g1q1)" stroke-width="2.75" filter="url(#b1)"/><ellipse cx="55.20" cy="218.20" rx="43.48" ry="43.48" fill="none" stroke="url(#g1q2)" stroke-width="2.75" filter="url(#b1)"/><ellipse cx="55.20" cy="218.20" rx="45.23" ry="45.23" fill="none" stroke="url(#g1q3)" stroke-width="2.75" filter="url(#b1)"/><ellipse cx="55.20" cy="218.20" rx="46.98" ry="46.98" fill="none" stroke="url(#g1q4)" stroke-width="2.75" filter="url(#b1)"/><ellipse cx="55.20" cy="218.20" rx="48.73" ry="48.73" fill="none" stroke="url(#g1q5)" stroke-width="2.75" filter="url(#b1)"/><ellipse cx="55.20" cy="218.20" rx="44.35" ry="44.35" fill="none" stroke="url(#g1v)" stroke-width="10.5" filter="url(#b1)"/><ellipse cx="55.20" cy="218.20" rx="48.90" ry="48.90" fill="none" stroke="url(#g1r)" stroke-width="1.4"/><ellipse cx="55.20" cy="218.20" rx="36.60" ry="36.60" fill="none" stroke="url(#g1h)" stroke-width="5" opacity="0.45" filter="url(#b1)"/><ellipse cx="55.20" cy="218.20" rx="38.60" ry="38.60" fill="none" stroke="url(#g1h)" stroke-width="3.0" filter="url(#b05)"/></g></g>
<g opacity="0.580"><ellipse cx="180.00" cy="101.40" rx="99.70" ry="99.50" fill="rgba(0,0,0,0.16)" filter="url(#sh)" transform="translate(0.3,1.6)"/><g clip-path="url(#g2c)"><ellipse cx="180.00" cy="101.40" rx="100.70" ry="100.50" fill="url(#g2)"/><ellipse cx="180.00" cy="101.40" rx="94.45" ry="94.25" fill="none" stroke="url(#g2b)" stroke-width="12.5"/><ellipse cx="180.00" cy="101.40" rx="89.24" ry="89.04" fill="none" stroke="url(#g2q0)" stroke-width="3.08" filter="url(#b1)"/><ellipse cx="180.00" cy="101.40" rx="91.33" ry="91.12" fill="none" stroke="url(#g2q1)" stroke-width="3.08" filter="url(#b1)"/><ellipse cx="180.00" cy="101.40" rx="93.41" ry="93.21" fill="none" stroke="url(#g2q2)" stroke-width="3.08" filter="url(#b1)"/><ellipse cx="180.00" cy="101.40" rx="95.49" ry="95.29" fill="none" stroke="url(#g2q3)" stroke-width="3.08" filter="url(#b1)"/><ellipse cx="180.00" cy="101.40" rx="97.58" ry="97.38" fill="none" stroke="url(#g2q4)" stroke-width="3.08" filter="url(#b1)"/><ellipse cx="180.00" cy="101.40" rx="99.66" ry="99.46" fill="none" stroke="url(#g2q5)" stroke-width="3.08" filter="url(#b1)"/><ellipse cx="180.00" cy="101.40" rx="94.45" ry="94.25" fill="none" stroke="url(#g2v)" stroke-width="12.5" filter="url(#b1)"/><ellipse cx="180.00" cy="101.40" rx="100.00" ry="99.80" fill="none" stroke="url(#g2r)" stroke-width="1.4"/><ellipse cx="180.00" cy="101.40" rx="85.70" ry="85.50" fill="none" stroke="url(#g2h)" stroke-width="5" opacity="0.45" filter="url(#b1)"/><ellipse cx="180.00" cy="101.40" rx="87.70" ry="87.50" fill="none" stroke="url(#g2h)" stroke-width="3.0" filter="url(#b05)"/></g></g>
<g opacity="0.580"><ellipse cx="325.10" cy="69.50" rx="28.00" ry="28.00" fill="rgba(0,0,0,0.16)" filter="url(#sh)" transform="translate(0.3,1.6)"/><g clip-path="url(#g3c)"><ellipse cx="325.10" cy="69.50" rx="29.00" ry="29.00" fill="url(#g3)"/><ellipse cx="325.10" cy="69.50" rx="23.75" ry="23.75" fill="none" stroke="url(#g3b)" stroke-width="10.5"/><ellipse cx="325.10" cy="69.50" rx="19.38" ry="19.38" fill="none" stroke="url(#g3q0)" stroke-width="2.75" filter="url(#b1)"/><ellipse cx="325.10" cy="69.50" rx="21.12" ry="21.12" fill="none" stroke="url(#g3q1)" stroke-width="2.75" filter="url(#b1)"/><ellipse cx="325.10" cy="69.50" rx="22.88" ry="22.88" fill="none" stroke="url(#g3q2)" stroke-width="2.75" filter="url(#b1)"/><ellipse cx="325.10" cy="69.50" rx="24.62" ry="24.62" fill="none" stroke="url(#g3q3)" stroke-width="2.75" filter="url(#b1)"/><ellipse cx="325.10" cy="69.50" rx="26.38" ry="26.38" fill="none" stroke="url(#g3q4)" stroke-width="2.75" filter="url(#b1)"/><ellipse cx="325.10" cy="69.50" rx="28.12" ry="28.12" fill="none" stroke="url(#g3q5)" stroke-width="2.75" filter="url(#b1)"/><ellipse cx="325.10" cy="69.50" rx="23.75" ry="23.75" fill="none" stroke="url(#g3v)" stroke-width="10.5" filter="url(#b1)"/><ellipse cx="325.10" cy="69.50" rx="28.30" ry="28.30" fill="none" stroke="url(#g3r)" stroke-width="1.4"/><ellipse cx="325.10" cy="69.50" rx="16.00" ry="16.00" fill="none" stroke="url(#g3h)" stroke-width="5" opacity="0.45" filter="url(#b1)"/><ellipse cx="325.10" cy="69.50" rx="18.00" ry="18.00" fill="none" stroke="url(#g3h)" stroke-width="2.4" filter="url(#b05)"/></g></g>
<g opacity="0.580"><ellipse cx="375.60" cy="221.20" rx="135.60" ry="139.30" fill="rgba(0,0,0,0.16)" filter="url(#sh)" transform="translate(0.3,1.6)"/><g clip-path="url(#g4c)"><ellipse cx="375.60" cy="221.20" rx="136.60" ry="140.30" fill="url(#g4)"/><ellipse cx="375.60" cy="221.20" rx="130.35" ry="134.05" fill="none" stroke="url(#g4b)" stroke-width="12.5"/><ellipse cx="375.60" cy="221.20" rx="125.14" ry="128.84" fill="none" stroke="url(#g4q0)" stroke-width="3.08" filter="url(#b1)"/><ellipse cx="375.60" cy="221.20" rx="127.22" ry="130.93" fill="none" stroke="url(#g4q1)" stroke-width="3.08" filter="url(#b1)"/><ellipse cx="375.60" cy="221.20" rx="129.31" ry="133.01" fill="none" stroke="url(#g4q2)" stroke-width="3.08" filter="url(#b1)"/><ellipse cx="375.60" cy="221.20" rx="131.39" ry="135.09" fill="none" stroke="url(#g4q3)" stroke-width="3.08" filter="url(#b1)"/><ellipse cx="375.60" cy="221.20" rx="133.47" ry="137.18" fill="none" stroke="url(#g4q4)" stroke-width="3.08" filter="url(#b1)"/><ellipse cx="375.60" cy="221.20" rx="135.56" ry="139.26" fill="none" stroke="url(#g4q5)" stroke-width="3.08" filter="url(#b1)"/><ellipse cx="375.60" cy="221.20" rx="130.35" ry="134.05" fill="none" stroke="url(#g4v)" stroke-width="12.5" filter="url(#b1)"/><ellipse cx="375.60" cy="221.20" rx="135.90" ry="139.60" fill="none" stroke="url(#g4r)" stroke-width="1.4"/><ellipse cx="375.60" cy="221.20" rx="121.60" ry="125.30" fill="none" stroke="url(#g4h)" stroke-width="5" opacity="0.45" filter="url(#b1)"/><ellipse cx="375.60" cy="221.20" rx="123.60" ry="127.30" fill="none" stroke="url(#g4h)" stroke-width="3.0" filter="url(#b05)"/><ellipse cx="375.60" cy="221.20" rx="134.00" ry="137.70" fill="none" stroke="url(#g4e)" stroke-width="2.2" filter="url(#b07)"/></g></g>
<g opacity="0.580"><ellipse cx="325.40" cy="362.20" rx="27.80" ry="27.80" fill="rgba(0,0,0,0.16)" filter="url(#sh)" transform="translate(0.3,1.6)"/><g clip-path="url(#g5c)"><ellipse cx="325.40" cy="362.20" rx="28.80" ry="28.80" fill="url(#g5)"/><ellipse cx="325.40" cy="362.20" rx="23.55" ry="23.55" fill="none" stroke="url(#g5b)" stroke-width="10.5"/><ellipse cx="325.40" cy="362.20" rx="19.18" ry="19.18" fill="none" stroke="url(#g5q0)" stroke-width="2.75" filter="url(#b1)"/><ellipse cx="325.40" cy="362.20" rx="20.93" ry="20.93" fill="none" stroke="url(#g5q1)" stroke-width="2.75" filter="url(#b1)"/><ellipse cx="325.40" cy="362.20" rx="22.68" ry="22.68" fill="none" stroke="url(#g5q2)" stroke-width="2.75" filter="url(#b1)"/><ellipse cx="325.40" cy="362.20" rx="24.43" ry="24.43" fill="none" stroke="url(#g5q3)" stroke-width="2.75" filter="url(#b1)"/><ellipse cx="325.40" cy="362.20" rx="26.18" ry="26.18" fill="none" stroke="url(#g5q4)" stroke-width="2.75" filter="url(#b1)"/><ellipse cx="325.40" cy="362.20" rx="27.93" ry="27.93" fill="none" stroke="url(#g5q5)" stroke-width="2.75" filter="url(#b1)"/><ellipse cx="325.40" cy="362.20" rx="23.55" ry="23.55" fill="none" stroke="url(#g5v)" stroke-width="10.5" filter="url(#b1)"/><ellipse cx="325.40" cy="362.20" rx="28.10" ry="28.10" fill="none" stroke="url(#g5r)" stroke-width="1.4"/><ellipse cx="325.40" cy="362.20" rx="15.80" ry="15.80" fill="none" stroke="url(#g5h)" stroke-width="5" opacity="0.45" filter="url(#b1)"/><ellipse cx="325.40" cy="362.20" rx="17.80" ry="17.80" fill="none" stroke="url(#g5h)" stroke-width="2.4" filter="url(#b05)"/></g></g>
<g opacity="0.580"><ellipse cx="171.35" cy="350.55" rx="131.60" ry="129.25" fill="rgba(0,0,0,0.16)" filter="url(#sh)" transform="translate(0.3,1.6)"/><g clip-path="url(#g6c)"><ellipse cx="171.35" cy="350.55" rx="132.60" ry="130.25" fill="url(#g6)"/><ellipse cx="171.35" cy="350.55" rx="126.35" ry="124.00" fill="none" stroke="url(#g6b)" stroke-width="12.5"/><ellipse cx="171.35" cy="350.55" rx="121.14" ry="118.79" fill="none" stroke="url(#g6q0)" stroke-width="3.08" filter="url(#b1)"/><ellipse cx="171.35" cy="350.55" rx="123.22" ry="120.88" fill="none" stroke="url(#g6q1)" stroke-width="3.08" filter="url(#b1)"/><ellipse cx="171.35" cy="350.55" rx="125.31" ry="122.96" fill="none" stroke="url(#g6q2)" stroke-width="3.08" filter="url(#b1)"/><ellipse cx="171.35" cy="350.55" rx="127.39" ry="125.04" fill="none" stroke="url(#g6q3)" stroke-width="3.08" filter="url(#b1)"/><ellipse cx="171.35" cy="350.55" rx="129.47" ry="127.12" fill="none" stroke="url(#g6q4)" stroke-width="3.08" filter="url(#b1)"/><ellipse cx="171.35" cy="350.55" rx="131.56" ry="129.21" fill="none" stroke="url(#g6q5)" stroke-width="3.08" filter="url(#b1)"/><ellipse cx="171.35" cy="350.55" rx="126.35" ry="124.00" fill="none" stroke="url(#g6v)" stroke-width="12.5" filter="url(#b1)"/><ellipse cx="171.35" cy="350.55" rx="131.90" ry="129.55" fill="none" stroke="url(#g6r)" stroke-width="1.4"/><ellipse cx="171.35" cy="350.55" rx="117.60" ry="115.25" fill="none" stroke="url(#g6h)" stroke-width="5" opacity="0.45" filter="url(#b1)"/><ellipse cx="171.35" cy="350.55" rx="119.60" ry="117.25" fill="none" stroke="url(#g6h)" stroke-width="3.0" filter="url(#b05)"/></g></g>
<text x="128.0" y="78.6" textLength="106.0" lengthAdjust="spacingAndGlyphs" font-size="25.0" fill="#1a1a40" opacity="0.5" filter="url(#b07)" transform="translate(0.6,1.2)">Build and</text>
<text x="128.0" y="78.6" textLength="106.0" lengthAdjust="spacingAndGlyphs" font-size="25.0" fill="#fff" stroke="rgba(22,22,70,0.9)" stroke-width="1.4" paint-order="stroke">Build and</text>
<text x="136.0" y="110.6" textLength="92.8" lengthAdjust="spacingAndGlyphs" font-size="25.0" fill="#1a1a40" opacity="0.5" filter="url(#b07)" transform="translate(0.6,1.2)">Manage</text>
<text x="136.0" y="110.6" textLength="92.8" lengthAdjust="spacingAndGlyphs" font-size="25.0" fill="#fff" stroke="rgba(22,22,70,0.9)" stroke-width="1.4" paint-order="stroke">Manage</text>
<text x="136.8" y="142.5" textLength="89.7" lengthAdjust="spacingAndGlyphs" font-size="25.0" fill="#1a1a40" opacity="0.5" filter="url(#b07)" transform="translate(0.6,1.2)">Utilities</text>
<text x="136.8" y="142.5" textLength="89.7" lengthAdjust="spacingAndGlyphs" font-size="25.0" fill="#fff" stroke="rgba(22,22,70,0.9)" stroke-width="1.4" paint-order="stroke">Utilities</text>
<text x="300.8" y="182.4" textLength="154.4" lengthAdjust="spacingAndGlyphs" font-size="25.0" fill="#1a1a40" opacity="0.5" filter="url(#b07)" transform="translate(0.6,1.2)">Implemented</text>
<text x="300.8" y="182.4" textLength="154.4" lengthAdjust="spacingAndGlyphs" font-size="25.0" fill="#fff" stroke="rgba(22,22,70,0.9)" stroke-width="1.4" paint-order="stroke">Implemented</text>
<text x="319.4" y="214.2" textLength="115.0" lengthAdjust="spacingAndGlyphs" font-size="25.0" fill="#1a1a40" opacity="0.5" filter="url(#b07)" transform="translate(0.6,1.2)">successful</text>
<text x="319.4" y="214.2" textLength="115.0" lengthAdjust="spacingAndGlyphs" font-size="25.0" fill="#fff" stroke="rgba(22,22,70,0.9)" stroke-width="1.4" paint-order="stroke">successful</text>
<text x="329.3" y="246.0" textLength="97.0" lengthAdjust="spacingAndGlyphs" font-size="25.0" fill="#1a1a40" opacity="0.5" filter="url(#b07)" transform="translate(0.6,1.2)">Business</text>
<text x="329.3" y="246.0" textLength="97.0" lengthAdjust="spacingAndGlyphs" font-size="25.0" fill="#fff" stroke="rgba(22,22,70,0.9)" stroke-width="1.4" paint-order="stroke">Business</text>
<text x="306.3" y="277.7" textLength="143.5" lengthAdjust="spacingAndGlyphs" font-size="25.0" fill="#1a1a40" opacity="0.5" filter="url(#b07)" transform="translate(0.6,1.2)">turnarounds</text>
<text x="306.3" y="277.7" textLength="143.5" lengthAdjust="spacingAndGlyphs" font-size="25.0" fill="#fff" stroke="rgba(22,22,70,0.9)" stroke-width="1.4" paint-order="stroke">turnarounds</text>
<text x="105.3" y="280.0" textLength="135.7" lengthAdjust="spacingAndGlyphs" font-size="25.0" fill="#1a1a40" opacity="0.5" filter="url(#b07)" transform="translate(0.6,1.2)">Understand</text>
<text x="105.3" y="280.0" textLength="135.7" lengthAdjust="spacingAndGlyphs" font-size="25.0" fill="#fff" stroke="rgba(22,22,70,0.9)" stroke-width="1.4" paint-order="stroke">Understand</text>
<text x="107.8" y="311.9" textLength="128.6" lengthAdjust="spacingAndGlyphs" font-size="25.0" fill="#1a1a40" opacity="0.5" filter="url(#b07)" transform="translate(0.6,1.2)">the REAL &amp;</text>
<text x="107.8" y="311.9" textLength="128.6" lengthAdjust="spacingAndGlyphs" font-size="25.0" fill="#fff" stroke="rgba(22,22,70,0.9)" stroke-width="1.4" paint-order="stroke">the REAL &amp;</text>
<text x="144.2" y="343.7" textLength="56.7" lengthAdjust="spacingAndGlyphs" font-size="25.0" fill="#1a1a40" opacity="0.5" filter="url(#b07)" transform="translate(0.6,1.2)">most</text>
<text x="144.2" y="343.7" textLength="56.7" lengthAdjust="spacingAndGlyphs" font-size="25.0" fill="#fff" stroke="rgba(22,22,70,0.9)" stroke-width="1.4" paint-order="stroke">most</text>
<text x="113.3" y="375.6" textLength="118.2" lengthAdjust="spacingAndGlyphs" font-size="25.0" fill="#1a1a40" opacity="0.5" filter="url(#b07)" transform="translate(0.6,1.2)">important</text>
<text x="113.3" y="375.6" textLength="118.2" lengthAdjust="spacingAndGlyphs" font-size="25.0" fill="#fff" stroke="rgba(22,22,70,0.9)" stroke-width="1.4" paint-order="stroke">important</text>
<text x="124.3" y="407.7" textLength="97.4" lengthAdjust="spacingAndGlyphs" font-size="25.0" fill="#1a1a40" opacity="0.5" filter="url(#b07)" transform="translate(0.6,1.2)">business</text>
<text x="124.3" y="407.7" textLength="97.4" lengthAdjust="spacingAndGlyphs" font-size="25.0" fill="#fff" stroke="rgba(22,22,70,0.9)" stroke-width="1.4" paint-order="stroke">business</text>
<text x="133.8" y="439.3" textLength="79.3" lengthAdjust="spacingAndGlyphs" font-size="25.0" fill="#1a1a40" opacity="0.5" filter="url(#b07)" transform="translate(0.6,1.2)">drivers</text>
<text x="133.8" y="439.3" textLength="79.3" lengthAdjust="spacingAndGlyphs" font-size="25.0" fill="#fff" stroke="rgba(22,22,70,0.9)" stroke-width="1.4" paint-order="stroke">drivers</text>
<g><path d="M454.90 460.01 A313.90 313.90 0 0 0 454.90 13.39 L432.90 35.65 A282.60 282.60 0 0 1 432.90 437.75 Z" fill="rgba(0,0,0,0.28)" filter="url(#sh)" transform="translate(0.8,1.2)"/><path d="M454.90 460.01 A313.90 313.90 0 0 0 454.90 13.39 L432.90 35.65 A282.60 282.60 0 0 1 432.90 437.75 Z" fill="url(#c7f)" stroke="rgb(71,34,119)" stroke-width="0.8" stroke-opacity="0.6" stroke-linejoin="miter"/><g clip-path="url(#c7)"><path d="M449.95 455.00 A306.86 306.86 0 0 0 449.95 18.40" fill="none" stroke="url(#c7l)" stroke-width="12.21" opacity="1.00" filter="url(#b05)"/><path d="M449.30 442.96 A297.94 297.94 0 0 0 449.30 30.44" fill="none" stroke="url(#c7g)" stroke-width="5.63" opacity="1.00" filter="url(#b05)"/><path d="M446.33 439.95 A293.71 293.71 0 0 0 446.33 33.45" fill="none" stroke="url(#c7s)" stroke-width="2.82" opacity="1.00" filter="url(#b05)"/><path d="M454.05 26.58 A304.04 304.04 0 0 0 447.97 20.40" fill="none" stroke="rgb(143,94,214)" stroke-width="17.84" opacity="1.00" filter="url(#b05)"/><path d="M447.97 453.00 A304.04 304.04 0 0 0 454.05 446.82" fill="none" stroke="rgb(89,43,148)" stroke-width="17.84" opacity="1.00" filter="url(#b05)"/><path d="M447.91 444.40 L448.86 438.42 L454.33 443.57 Z" fill="rgb(166,127,222)" opacity="0.95"/><path d="M454.90 460.01 A313.90 313.90 0 0 0 454.90 13.39 L432.90 35.65 A282.60 282.60 0 0 1 432.90 437.75 Z" fill="none" stroke="rgb(71,34,119)" stroke-width="2.4" opacity="0.55" filter="url(#b07)"/></g></g>
<g><path d="M658.57 13.46 A313.80 313.80 0 0 0 658.57 459.94 L680.78 437.46 A282.20 282.20 0 0 1 680.78 35.94 Z" fill="rgba(0,0,0,0.28)" filter="url(#sh)" transform="translate(0.8,1.2)"/><path d="M658.57 13.46 A313.80 313.80 0 0 0 658.57 459.94 L680.78 437.46 A282.20 282.20 0 0 1 680.78 35.94 Z" fill="url(#c8f)" stroke="rgb(37,136,132)" stroke-width="0.8" stroke-opacity="0.6" stroke-linejoin="miter"/><g clip-path="url(#c8)"><path d="M675.78 30.88 A289.31 289.31 0 0 0 675.78 442.52" fill="none" stroke="url(#c8l)" stroke-width="12.32" opacity="1.00" filter="url(#b05)"/><path d="M663.84 30.17 A298.32 298.32 0 0 0 663.84 443.23" fill="none" stroke="url(#c8g)" stroke-width="5.69" opacity="1.00" filter="url(#b05)"/><path d="M660.84 27.14 A302.58 302.58 0 0 0 660.84 446.26" fill="none" stroke="url(#c8s)" stroke-width="2.84" opacity="1.00" filter="url(#b05)"/><path d="M673.78 28.86 A292.15 292.15 0 0 0 667.94 34.80" fill="none" stroke="rgb(92,236,230)" stroke-width="18.01" opacity="1.00" filter="url(#b05)"/><path d="M667.94 438.60 A292.15 292.15 0 0 0 673.78 444.54" fill="none" stroke="rgb(67,192,188)" stroke-width="18.01" opacity="1.00" filter="url(#b05)"/><path d="M665.23 28.73 L659.24 29.97 L664.76 35.16 Z" fill="rgb(126,240,235)" opacity="0.95"/><path d="M658.57 13.46 A313.80 313.80 0 0 0 658.57 459.94 L680.78 437.46 A282.20 282.20 0 0 1 680.78 35.94 Z" fill="none" stroke="rgb(37,136,132)" stroke-width="2.4" opacity="0.55" filter="url(#b07)"/></g></g>
<g><path d="M1085.44 460.15 A314.10 314.10 0 0 0 1085.44 13.25 L1063.16 35.80 A282.40 282.40 0 0 1 1063.16 437.60 Z" fill="rgba(0,0,0,0.28)" filter="url(#sh)" transform="translate(0.8,1.2)"/><path d="M1085.44 460.15 A314.10 314.10 0 0 0 1085.44 13.25 L1063.16 35.80 A282.40 282.40 0 0 1 1063.16 437.60 Z" fill="url(#c9f)" stroke="rgb(119,101,101)" stroke-width="0.8" stroke-opacity="0.6" stroke-linejoin="miter"/><g clip-path="url(#c9)"><path d="M1080.43 455.08 A306.97 306.97 0 0 0 1080.43 18.32" fill="none" stroke="url(#c9l)" stroke-width="12.36" opacity="1.00" filter="url(#b05)"/><path d="M1079.69 442.96 A297.93 297.93 0 0 0 1079.69 30.44" fill="none" stroke="url(#c9g)" stroke-width="5.71" opacity="1.00" filter="url(#b05)"/><path d="M1076.69 439.91 A293.65 293.65 0 0 0 1076.69 33.49" fill="none" stroke="url(#c9s)" stroke-width="2.85" opacity="1.00" filter="url(#b05)"/><path d="M1084.50 26.53 A304.11 304.11 0 0 0 1078.42 20.35" fill="none" stroke="rgb(209,185,185)" stroke-width="18.07" opacity="1.00" filter="url(#b05)"/><path d="M1078.42 453.05 A304.11 304.11 0 0 0 1084.50 446.87" fill="none" stroke="rgb(146,125,125)" stroke-width="18.07" opacity="1.00" filter="url(#b05)"/><path d="M1078.31 444.39 L1079.22 438.39 L1084.76 443.60 Z" fill="rgb(219,200,200)" opacity="0.95"/><path d="M1085.44 460.15 A314.10 314.10 0 0 0 1085.44 13.25 L1063.16 35.80 A282.40 282.40 0 0 1 1063.16 437.60 Z" fill="none" stroke="rgb(119,101,101)" stroke-width="2.4" opacity="0.55" filter="url(#b07)"/></g></g>
<g><path d="M1289.31 12.89 A314.60 314.60 0 0 0 1289.31 460.51 L1311.44 438.10 A283.10 283.10 0 0 1 1311.44 35.30 Z" fill="rgba(0,0,0,0.28)" filter="url(#sh)" transform="translate(0.8,1.2)"/><path d="M1289.31 12.89 A314.60 314.60 0 0 0 1289.31 460.51 L1311.44 438.10 A283.10 283.10 0 0 1 1311.44 35.30 Z" fill="url(#c10f)" stroke="rgb(69,46,154)" stroke-width="0.8" stroke-opacity="0.6" stroke-linejoin="miter"/><g clip-path="url(#c10)"><path d="M1306.46 30.26 A290.19 290.19 0 0 0 1306.46 443.14" fill="none" stroke="url(#c10l)" stroke-width="12.29" opacity="1.00" filter="url(#b05)"/><path d="M1294.54 29.57 A299.17 299.17 0 0 0 1294.54 443.83" fill="none" stroke="url(#c10g)" stroke-width="5.67" opacity="1.00" filter="url(#b05)"/><path d="M1291.55 26.54 A303.42 303.42 0 0 0 1291.55 446.86" fill="none" stroke="url(#c10s)" stroke-width="2.84" opacity="1.00" filter="url(#b05)"/><path d="M1304.47 28.24 A293.02 293.02 0 0 0 1298.63 34.18" fill="none" stroke="rgb(136,108,251)" stroke-width="17.95" opacity="1.00" filter="url(#b05)"/><path d="M1298.63 439.22 A293.02 293.02 0 0 0 1304.47 445.16" fill="none" stroke="rgb(105,77,210)" stroke-width="17.95" opacity="1.00" filter="url(#b05)"/><path d="M1295.93 28.13 L1289.95 29.37 L1295.46 34.55 Z" fill="rgb(160,138,252)" opacity="0.95"/><path d="M1289.31 12.89 A314.60 314.60 0 0 0 1289.31 460.51 L1311.44 438.10 A283.10 283.10 0 0 1 1311.44 35.30 Z" fill="none" stroke="rgb(69,46,154)" stroke-width="2.4" opacity="0.55" filter="url(#b07)"/></g></g>
<g opacity="0.580"><ellipse cx="770.20" cy="246.00" rx="144.20" ry="143.80" fill="rgba(0,0,0,0.16)" filter="url(#sh)" transform="translate(0.3,1.6)"/><g clip-path="url(#g11c)"><ellipse cx="770.20" cy="246.00" rx="145.20" ry="144.80" fill="url(#g11)"/><ellipse cx="770.20" cy="246.00" rx="138.95" ry="138.55" fill="none" stroke="url(#g11b)" stroke-width="12.5"/><ellipse cx="770.20" cy="246.00" rx="133.74" ry="133.34" fill="none" stroke="url(#g11q0)" stroke-width="3.08" filter="url(#b1)"/><ellipse cx="770.20" cy="246.00" rx="135.82" ry="135.43" fill="none" stroke="url(#g11q1)" stroke-width="3.08" filter="url(#b1)"/><ellipse cx="770.20" cy="246.00" rx="137.91" ry="137.51" fill="none" stroke="url(#g11q2)" stroke-width="3.08" filter="url(#b1)"/><ellipse cx="770.20" cy="246.00" rx="139.99" ry="139.59" fill="none" stroke="url(#g11q3)" stroke-width="3.08" filter="url(#b1)"/><ellipse cx="770.20" cy="246.00" rx="142.07" ry="141.68" fill="none" stroke="url(#g11q4)" stroke-width="3.08" filter="url(#b1)"/><ellipse cx="770.20" cy="246.00" rx="144.16" ry="143.76" fill="none" stroke="url(#g11q5)" stroke-width="3.08" filter="url(#b1)"/><ellipse cx="770.20" cy="246.00" rx="138.95" ry="138.55" fill="none" stroke="url(#g11v)" stroke-width="12.5" filter="url(#b1)"/><ellipse cx="770.20" cy="246.00" rx="144.50" ry="144.10" fill="none" stroke="url(#g11r)" stroke-width="1.4"/><ellipse cx="770.20" cy="246.00" rx="130.20" ry="129.80" fill="none" stroke="url(#g11h)" stroke-width="5" opacity="0.45" filter="url(#b1)"/><ellipse cx="770.20" cy="246.00" rx="132.20" ry="131.80" fill="none" stroke="url(#g11h)" stroke-width="3.0" filter="url(#b05)"/></g></g>
<g opacity="0.580"><ellipse cx="979.80" cy="246.00" rx="144.20" ry="143.80" fill="rgba(0,0,0,0.16)" filter="url(#sh)" transform="translate(0.3,1.6)"/><g clip-path="url(#g12c)"><ellipse cx="979.80" cy="246.00" rx="145.20" ry="144.80" fill="url(#g12)"/><ellipse cx="979.80" cy="246.00" rx="138.95" ry="138.55" fill="none" stroke="url(#g12b)" stroke-width="12.5"/><ellipse cx="979.80" cy="246.00" rx="133.74" ry="133.34" fill="none" stroke="url(#g12q0)" stroke-width="3.08" filter="url(#b1)"/><ellipse cx="979.80" cy="246.00" rx="135.82" ry="135.43" fill="none" stroke="url(#g12q1)" stroke-width="3.08" filter="url(#b1)"/><ellipse cx="979.80" cy="246.00" rx="137.91" ry="137.51" fill="none" stroke="url(#g12q2)" stroke-width="3.08" filter="url(#b1)"/><ellipse cx="979.80" cy="246.00" rx="139.99" ry="139.59" fill="none" stroke="url(#g12q3)" stroke-width="3.08" filter="url(#b1)"/><ellipse cx="979.80" cy="246.00" rx="142.07" ry="141.68" fill="none" stroke="url(#g12q4)" stroke-width="3.08" filter="url(#b1)"/><ellipse cx="979.80" cy="246.00" rx="144.16" ry="143.76" fill="none" stroke="url(#g12q5)" stroke-width="3.08" filter="url(#b1)"/><ellipse cx="979.80" cy="246.00" rx="138.95" ry="138.55" fill="none" stroke="url(#g12v)" stroke-width="12.5" filter="url(#b1)"/><ellipse cx="979.80" cy="246.00" rx="144.50" ry="144.10" fill="none" stroke="url(#g12r)" stroke-width="1.4"/><ellipse cx="979.80" cy="246.00" rx="130.20" ry="129.80" fill="none" stroke="url(#g12h)" stroke-width="5" opacity="0.45" filter="url(#b1)"/><ellipse cx="979.80" cy="246.00" rx="132.20" ry="131.80" fill="none" stroke="url(#g12h)" stroke-width="3.4" filter="url(#b05)"/><ellipse cx="979.80" cy="246.00" rx="142.60" ry="142.20" fill="none" stroke="url(#g12e)" stroke-width="2.2" filter="url(#b07)"/></g></g>
<text x="668.7" y="221.6" textLength="161.3" lengthAdjust="spacingAndGlyphs" font-size="28.6" fill="#333" opacity="0.45" filter="url(#b1)" transform="translate(0.8,1.4)">Customised,</text>
<text x="668.7" y="221.6" textLength="161.3" lengthAdjust="spacingAndGlyphs" font-size="28.6" fill="#fff">Customised,</text>
<text x="694.2" y="257.4" textLength="112.2" lengthAdjust="spacingAndGlyphs" font-size="28.6" fill="#333" opacity="0.45" filter="url(#b1)" transform="translate(0.8,1.4)">practical</text>
<text x="694.2" y="257.4" textLength="112.2" lengthAdjust="spacingAndGlyphs" font-size="28.6" fill="#fff">practical</text>
<text x="691.0" y="294.3" textLength="118.8" lengthAdjust="spacingAndGlyphs" font-size="28.6" fill="#333" opacity="0.45" filter="url(#b1)" transform="translate(0.8,1.4)">solutions</text>
<text x="691.0" y="294.3" textLength="118.8" lengthAdjust="spacingAndGlyphs" font-size="28.6" fill="#fff">solutions</text>
<text x="948.3" y="221.6" textLength="106.5" lengthAdjust="spacingAndGlyphs" font-size="28.6" fill="#333" opacity="0.45" filter="url(#b1)" transform="translate(0.8,1.4)">Building</text>
<text x="948.3" y="221.6" textLength="106.5" lengthAdjust="spacingAndGlyphs" font-size="28.6" fill="#fff">Building</text>
<text x="951.4" y="257.4" textLength="100.8" lengthAdjust="spacingAndGlyphs" font-size="28.6" fill="#333" opacity="0.45" filter="url(#b1)" transform="translate(0.8,1.4)">internal</text>
<text x="951.4" y="257.4" textLength="100.8" lengthAdjust="spacingAndGlyphs" font-size="28.6" fill="#fff">internal</text>
<text x="947.0" y="294.3" textLength="108.8" lengthAdjust="spacingAndGlyphs" font-size="28.6" fill="#333" opacity="0.45" filter="url(#b1)" transform="translate(0.8,1.4)">capacity</text>
<text x="947.0" y="294.3" textLength="108.8" lengthAdjust="spacingAndGlyphs" font-size="28.6" fill="#fff">capacity</text>
<g opacity="1.000"><ellipse cx="1464.70" cy="235.35" rx="185.30" ry="184.40" fill="rgba(0,0,0,0.16)" filter="url(#sh)" transform="translate(0.3,1.6)"/><g clip-path="url(#g13c)"><ellipse cx="1464.70" cy="235.35" rx="186.30" ry="185.40" fill="url(#g13)"/><ellipse cx="1464.70" cy="235.35" rx="180.80" ry="179.90" fill="none" stroke="url(#g13b)" stroke-width="11.0"/><ellipse cx="1464.70" cy="235.35" rx="176.22" ry="175.32" fill="none" stroke="url(#g13q0)" stroke-width="2.83" filter="url(#b1)"/><ellipse cx="1464.70" cy="235.35" rx="178.05" ry="177.15" fill="none" stroke="url(#g13q1)" stroke-width="2.83" filter="url(#b1)"/><ellipse cx="1464.70" cy="235.35" rx="179.88" ry="178.98" fill="none" stroke="url(#g13q2)" stroke-width="2.83" filter="url(#b1)"/><ellipse cx="1464.70" cy="235.35" rx="181.72" ry="180.82" fill="none" stroke="url(#g13q3)" stroke-width="2.83" filter="url(#b1)"/><ellipse cx="1464.70" cy="235.35" rx="183.55" ry="182.65" fill="none" stroke="url(#g13q4)" stroke-width="2.83" filter="url(#b1)"/><ellipse cx="1464.70" cy="235.35" rx="185.38" ry="184.48" fill="none" stroke="url(#g13q5)" stroke-width="2.83" filter="url(#b1)"/><ellipse cx="1464.70" cy="235.35" rx="180.80" ry="179.90" fill="none" stroke="url(#g13v)" stroke-width="11.0" filter="url(#b1)"/><ellipse cx="1464.70" cy="235.35" rx="185.60" ry="184.70" fill="none" stroke="url(#g13r)" stroke-width="1.4"/><ellipse cx="1464.70" cy="235.35" rx="172.80" ry="171.90" fill="none" stroke="url(#g13h)" stroke-width="5" opacity="0.45" filter="url(#b1)"/><ellipse cx="1464.70" cy="235.35" rx="174.80" ry="173.90" fill="none" stroke="url(#g13h)" stroke-width="3.0" filter="url(#b05)"/><ellipse cx="1464.70" cy="235.35" rx="183.70" ry="182.80" fill="none" stroke="url(#g13e)" stroke-width="2.2" filter="url(#b07)"/></g></g>
<text x="1412.1" y="146.5" textLength="105.1" lengthAdjust="spacingAndGlyphs" font-size="26.5" fill="#fff">Business</text>
<text x="1383.3" y="180.0" textLength="162.7" lengthAdjust="spacingAndGlyphs" font-size="26.5" fill="#fff">sustainability</text>
<text x="1347.1" y="276.7" textLength="235.4" lengthAdjust="spacingAndGlyphs" font-size="26.5" fill="#fff">Personal eminence</text>
<text x="1393.9" y="310.7" textLength="141.1" lengthAdjust="spacingAndGlyphs" font-size="26.5" fill="#fff">as an utility</text>
<text x="1406.6" y="343.5" textLength="115.7" lengthAdjust="spacingAndGlyphs" font-size="26.5" fill="#fff">executive</text>
<path d="M580.25 496.75H605.35V526.05H632.25V551.85H605.35V581.25H580.25V551.85H553.75V526.05H580.25Z" fill="rgb(58,192,242)" stroke="rgb(38,140,178)" stroke-width="3.5" stroke-linejoin="miter"/>
<rect x="1140.8" y="509.7" width="93.5" height="23.2" fill="rgb(58,192,242)" stroke="rgb(38,140,178)" stroke-width="3.6"/>
<rect x="1140.8" y="543.9" width="93.5" height="23.2" fill="rgb(58,192,242)" stroke="rgb(38,140,178)" stroke-width="3.6"/>
<text x="65.0" y="554.4" textLength="422.2" lengthAdjust="spacingAndGlyphs" font-size="63.4" fill="#fdfeff" stroke="#bfc3c8" stroke-width="0.9">Our Experience</text>
<text x="712.0" y="554.6" textLength="341.3" lengthAdjust="spacingAndGlyphs" font-size="63.4" fill="#fdfeff" stroke="#bfc3c8" stroke-width="0.9">Our Promise</text>
<text x="1289.6" y="554.8" textLength="352.0" lengthAdjust="spacingAndGlyphs" font-size="63.4" fill="#fdfeff" stroke="#bfc3c8" stroke-width="0.9">Your Success</text>
<text x="345.0" y="638.0" textLength="1095.0" lengthAdjust="spacingAndGlyphs" font-size="27.0" fill="#fcfdff">Our experience provides the base to fulfil ...as your utility coach, resulting in the</text>
<text x="341.0" y="678.0" textLength="1077.0" lengthAdjust="spacingAndGlyphs" font-size="27.0" fill="#fcfdff">our promise and value proposition... business and your personal success.</text>
</svg>
</body>
</html>
